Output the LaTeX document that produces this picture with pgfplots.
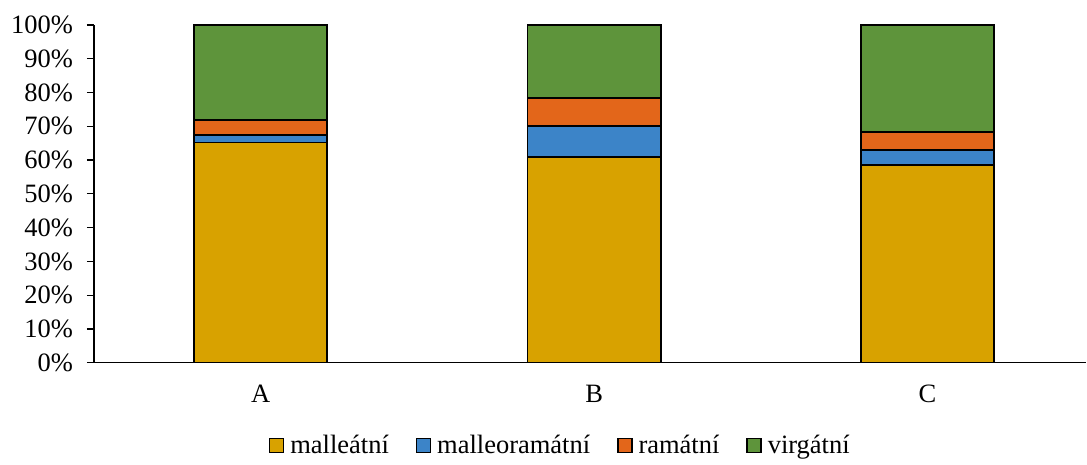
\documentclass[border=0pt]{standalone}
\usepackage{fontspec}
\setmainfont{Liberation Serif}
\usepackage{pgfplots}
\pgfplotsset{compat=1.18}

\definecolor{malleat}{HTML}{D8A200}
\definecolor{malleoram}{HTML}{3C84C8}
\definecolor{ramat}{HTML}{E3661A}
\definecolor{virgat}{HTML}{5E943B}

\begin{document}
\begin{tikzpicture}
\begin{axis}[
  scale only axis,
  width=496.5bp, height=169bp,
  ybar stacked,
  bar width=0.4,
  xmin=-0.5, xmax=2.476,
  ymin=0, ymax=100,
  xtick=data,
  xticklabels={A,B,C},
  ytick={0,10,...,100},
  yticklabels={0\%,10\%,20\%,30\%,40\%,50\%,60\%,70\%,80\%,90\%,100\%},
  axis lines*=left,
  axis line style={black, line width=0.75bp},
  x tick style={draw=none},
  y tick style={black, line width=0.6bp},
  tick align=outside,
  major tick length=3.5bp,
  tick label style={font=\fontsize{13.3}{15}\selectfont, text=black},
  xticklabel style={yshift=-4bp},
  yticklabel style={xshift=-3.5bp},
  legend columns=4,
  legend style={
    draw=none, fill=none,
    at={(0.472,-0.245)}, anchor=center,
    font=\fontsize{13.3}{15}\selectfont,
    nodes={inner xsep=3bp},
    /tikz/every even column/.append style={column sep=10.5bp},
  },
  legend image code/.code={
    \draw[#1, draw=black, line width=0.7bp] (0bp,-3.5bp) rectangle (7bp,3.5bp);
  },
  every axis plot/.append style={draw=black, line width=0.9bp},
]
\addplot[fill=malleat] coordinates {(0,65.2) (1,60.9) (2,58.6)};
\addplot[fill=malleoram] coordinates {(0,2.3) (1,9.2) (2,4.5)};
\addplot[fill=ramat] coordinates {(0,4.4) (1,8.2) (2,5.3)};
\addplot[fill=virgat] coordinates {(0,28.1) (1,21.7) (2,31.6)};
\legend{malleátní, malleoramátní, ramátní, virgátní}
\end{axis}
\path (current axis.south west) ++(-47bp,-49.5bp);
\path (current axis.north west) ++(0,12.5bp);
\end{tikzpicture}
\end{document}
